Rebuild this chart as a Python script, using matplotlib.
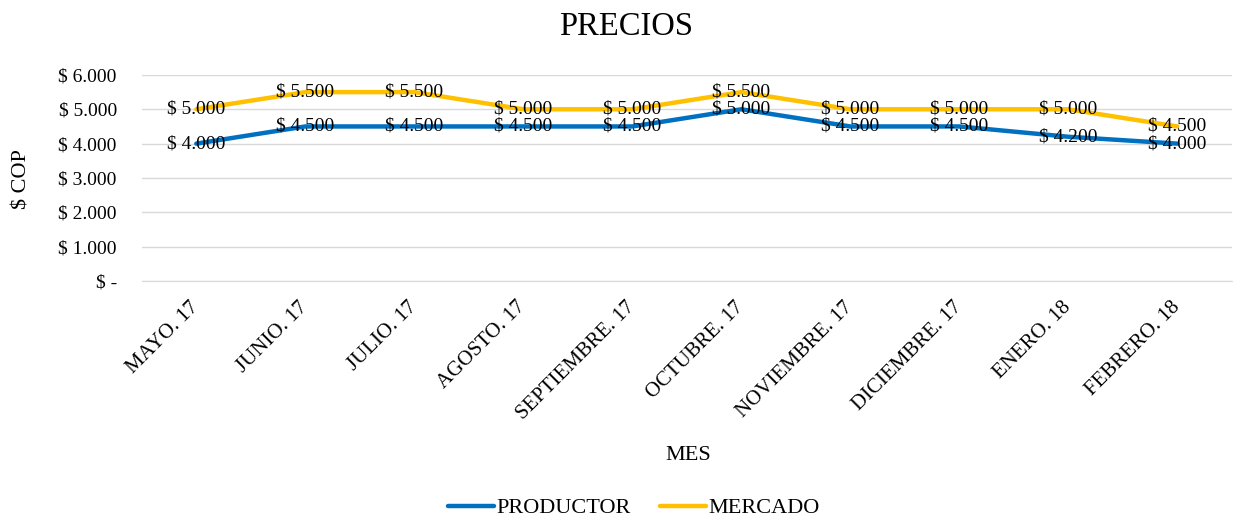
import numpy as np
import matplotlib
matplotlib.use("Agg")
from matplotlib import pyplot as plt
from matplotlib import transforms

meses = ["MAYO. 17", "JUNIO. 17", "JULIO. 17", "AGOSTO. 17", "SEPTIEMBRE. 17",
         "OCTUBRE. 17", "NOVIEMBRE. 17", "DICIEMBRE. 17", "ENERO. 18", "FEBRERO. 18"]
productor = [4000, 4500, 4500, 4500, 4500, 5000, 4500, 4500, 4200, 4000]
mercado = [5000, 5500, 5500, 5000, 5000, 5500, 5000, 5000, 5000, 4500]
yticks = [0, 1000, 2000, 3000, 4000, 5000, 6000]

plt.rcParams['font.family'] = ['Liberation Serif', 'DejaVu Serif']

def fmt(v):
	if v == 0:
		return "$ -"
	return "$ " + "{:,}".format(int(v)).replace(",", ".")

fig = plt.figure(figsize=(12.33, 5.19), dpi=100)
ax = fig.add_axes([0.115, 0.4586, 0.884, 0.397])

x = np.arange(len(meses))
ax.plot(x, productor, color='#0070C0', lw=3.2, solid_capstyle='round', label='PRODUCTOR', zorder=3)
ax.plot(x, mercado, color='#FFC000', lw=3.2, solid_capstyle='round', label='MERCADO', zorder=3)

# data labels centred on each point
for xi, v in zip(x, mercado):
	ax.text(xi, v, fmt(v), ha='center', va='center', fontsize=14, color='black', zorder=4)
for xi, v in zip(x, productor):
	ax.text(xi, v, fmt(v), ha='center', va='center', fontsize=14, color='black', zorder=4)

ax.set_xlim(-0.5, len(meses) - 0.5)
ax.set_ylim(0, 6000)
ax.set_yticks(yticks)
ax.set_yticklabels([fmt(v) for v in yticks], fontsize=14)
ax.set_xticks(x)
ax.set_xticklabels(meses, rotation=45, ha='right', va='top', rotation_mode='anchor', fontsize=15)
ax.tick_params(axis='both', length=0)
ax.tick_params(axis='y', pad=18)
ax.tick_params(axis='x', pad=12)
shift = transforms.ScaledTranslation(-7 / 100, 0, fig.dpi_scale_trans)
for lbl in ax.get_xticklabels():
	lbl.set_transform(lbl.get_transform() + shift)
ax.grid(axis='y', color='#D9D9D9', lw=1)
ax.set_axisbelow(True)
for s in ['top', 'right', 'left']:
	ax.spines[s].set_visible(False)
ax.spines['bottom'].set_color('#D9D9D9')

fig.text(0.508, 0.948, "PRECIOS", ha='center', va='center', fontsize=23.5)
fig.text(0.558, 0.123, "MES", ha='center', va='center', fontsize=16)
fig.text(0.018, 0.655, "$ COP", ha='center', va='center', rotation=90, fontsize=16)

fig.legend(loc='center', bbox_to_anchor=(0.514, 0.021), ncol=2, frameon=False,
	fontsize=16, handlelength=2.1, handletextpad=0.1, columnspacing=1.3)

plt.savefig("out.png", dpi=100)
plt.close()
